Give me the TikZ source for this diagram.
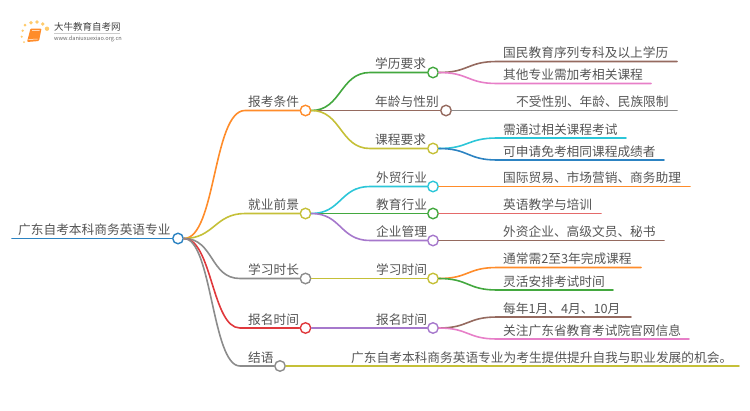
\documentclass[tikz,border=0pt]{standalone}
\usepackage{fontspec}
\setmainfont{Noto Sans CJK SC}
\definecolor{cblue}{HTML}{2C83C2}
\definecolor{corange}{HTML}{FF8C2A}
\definecolor{cgreen}{HTML}{43A83F}
\definecolor{cbrown}{HTML}{956A5F}
\definecolor{cpink}{HTML}{E77FC8}
\definecolor{cgray}{HTML}{8C8C8C}
\definecolor{colive}{HTML}{C5C038}
\definecolor{ccyan}{HTML}{2CC6D8}
\definecolor{cred}{HTML}{E0383C}
\definecolor{cpurple}{HTML}{A678CC}
\definecolor{csalmon}{HTML}{E46A6A}
\definecolor{ctext}{HTML}{555555}
\tikzset{
  lab/.style={anchor=base west,inner sep=0pt,text=ctext,yshift=-1.4pt,font=\fontsize{12.7}{14}\selectfont},
  dot/.style={circle,draw=#1,fill=white,line width=1.4pt,minimum size=10.5pt,inner sep=0pt},
  link/.style={draw=#1,line width=1.6pt,line cap=round},
  logodot/.style={fill=corange!70!yellow,opacity=.65}
}
\begin{document}
\begin{tikzpicture}[x=1pt,y=-1pt]
\useasboundingbox (0,0) rectangle (750,410);
% logo
\foreach \px/\py/\pr in {25/25/1.5,31/22.7/1.8,37/22/1.9,42.7/24/1.9,47/28.7/2.2,22.7/30.7/1.3,21.7/36.7/1.2,24/42/1}
  \fill[logodot] (\px,\py) circle (\pr);
\fill[corange,rounded corners=1pt] (30.5,28.5)--(41.5,28.5)--(39,41)--(27,42)--cycle;
\draw[white,line width=.5pt] (32,30.5)--(39.5,30.5) (28.5,39.5)--(37.5,39);
\node[lab,yshift=1.4pt,font=\fontsize{9.5}{11}\selectfont,text=black!75] (logotitle) at (54,30) {大牛教育自考网};
\draw[black!20,line width=.5pt] (54,33.3)--(120,33.3);
\node[lab,yshift=1.4pt,font=\fontsize{5.6}{7}\selectfont,text=black!60] (logourl) at (54,40.5) {www.daniuxuexiao.org.cn};
% circles
\node[dot=cblue] (root) at (178,238.5) {};
\node[dot=corange] (baokao) at (305.5,110.5) {};
\node[dot=colive] (jiuye) at (305.5,213.5) {};
\node[dot=cgray] (shichang) at (305.5,278.5) {};
\node[dot=cred] (baoming) at (305.5,328) {};
\node[dot=cgray] (jieyu) at (280,366) {};
\node[dot=cgreen] (xueli) at (433,72.5) {};
\node[dot=cbrown] (nianling) at (446,110.5) {};
\node[dot=colive] (kecheng) at (433,148.5) {};
\node[dot=ccyan] (waimao) at (433,186.5) {};
\node[dot=cgreen] (jiaoyu) at (433,213.5) {};
\node[dot=cpurple] (qiye) at (433,240.5) {};
\node[dot=colive] (xuexi) at (433,278.5) {};
\node[dot=cpurple] (shijian) at (433,328) {};
% line ends
\coordinate (rootstart) at (12,238.5);
\coordinate (baokaoa) at (245,110.5);
\coordinate (jiuyea) at (245,213.5);
\coordinate (shichanga) at (240,278.5);
\coordinate (baominga) at (240,328);
\coordinate (jieyua) at (240,366);
\coordinate (xuelia) at (370,72.5);
\coordinate (kechenga) at (370,148.5);
\coordinate (waimaoa) at (370,186.5);
\coordinate (qiyea) at (370,240.5);
\coordinate (l1a) at (497,61.5);
\coordinate (l1b) at (677,61.5);
\coordinate (l2a) at (497,83.5);
\coordinate (l2b) at (651,83.5);
\coordinate (l3b) at (677,110.5);
\coordinate (l4a) at (497,138);
\coordinate (l4b) at (626,138);
\coordinate (l5a) at (497,160);
\coordinate (l5b) at (664,160);
\coordinate (l6b) at (690,186.5);
\coordinate (l7b) at (601,213.5);
\coordinate (l8b) at (664,240.5);
\coordinate (l9a) at (497,267.5);
\coordinate (l9b) at (641,267.5);
\coordinate (l10a) at (497,290);
\coordinate (l10b) at (613,290);
\coordinate (l11a) at (497,317);
\coordinate (l11b) at (631,317);
\coordinate (l12a) at (497,339);
\coordinate (l12b) at (689,339);
\coordinate (l13b) at (739,366);
% connectors
\draw[link=cblue] (rootstart)--(root.west);
\draw[link=corange] (root.east) .. controls +(32,0) and +(-32,0) .. (baokaoa)--(baokao.west);
\draw[link=colive] (root.east) .. controls +(30,0) and +(-30,0) .. (jiuyea)--(jiuye.west);
\draw[link=cgray] (root.east) .. controls +(30,0) and +(-30,0) .. (shichanga)--(shichang.west);
\draw[link=cred] (root.east) .. controls +(28,0) and +(-28,0) .. (baominga)--(baoming.west);
\draw[link=cgray] (root.east) .. controls +(28,0) and +(-28,0) .. (jieyua)--(jieyu.west);
\draw[link=cgreen] (baokao.east) .. controls +(30,0) and +(-30,0) .. (xuelia)--(xueli.west);
\draw[link=cbrown] (baokao.east)--(nianling.west);
\draw[link=colive] (baokao.east) .. controls +(30,0) and +(-30,0) .. (kechenga)--(kecheng.west);
\draw[link=ccyan] (jiuye.east) .. controls +(30,0) and +(-30,0) .. (waimaoa)--(waimao.west);
\draw[link=cgreen] (jiuye.east)--(jiaoyu.west);
\draw[link=cpurple] (jiuye.east) .. controls +(30,0) and +(-30,0) .. (qiyea)--(qiye.west);
\draw[link=colive] (shichang.east)--(xuexi.west);
\draw[link=cpurple] (baoming.east)--(shijian.west);
\draw[link=colive] (jieyu.east)--(l13b);
\draw[link=cbrown] (xueli.east) .. controls +(30,0) and +(-30,0) .. (l1a)--(l1b);
\draw[link=cpink] (xueli.east) .. controls +(30,0) and +(-30,0) .. (l2a)--(l2b);
\draw[link=cgray] (nianling.east)--(l3b);
\draw[link=ccyan] (kecheng.east) .. controls +(30,0) and +(-30,0) .. (l4a)--(l4b);
\draw[link=cblue] (kecheng.east) .. controls +(30,0) and +(-30,0) .. (l5a)--(l5b);
\draw[link=corange] (waimao.east)--(l6b);
\draw[link=csalmon] (jiaoyu.east)--(l7b);
\draw[link=cbrown] (qiye.east)--(l8b);
\draw[link=corange] (xuexi.east) .. controls +(30,0) and +(-30,0) .. (l9a)--(l9b);
\draw[link=cgreen] (xuexi.east) .. controls +(30,0) and +(-30,0) .. (l10a)--(l10b);
\draw[link=cbrown] (shijian.east) .. controls +(30,0) and +(-30,0) .. (l11a)--(l11b);
\draw[link=cpink] (shijian.east) .. controls +(30,0) and +(-30,0) .. (l12a)--(l12b);
% labels
\node[lab] (troot) at (18,233.5) {广东自考本科商务英语专业};
\node[lab] (tbaokao) at (248,105.5) {报考条件};
\node[lab] (tjiuye) at (248,208.5) {就业前景};
\node[lab] (tshichang) at (248,273.5) {学习时长};
\node[lab] (tbaoming) at (248,323) {报名时间};
\node[lab] (tjieyu) at (248,361) {结语};
\node[lab] (txueli) at (375,67.5) {学历要求};
\node[lab] (tnianling) at (375,105.5) {年龄与性别};
\node[lab] (tkecheng) at (375,143.5) {课程要求};
\node[lab] (twaimao) at (376,181.5) {外贸行业};
\node[lab] (tjiaoyu) at (376,208.5) {教育行业};
\node[lab] (tqiye) at (376,235.5) {企业管理};
\node[lab] (txuexi) at (376,273.5) {学习时间};
\node[lab] (tshijian) at (376,323) {报名时间};
\node[lab] (tl1) at (503,56.5) {国民教育序列专科及以上学历};
\node[lab] (tl2) at (503,78.5) {其他专业需加考相关课程};
\node[lab] (tl3) at (516,105.5) {不受性别、年龄、民族限制};
\node[lab] (tl4) at (503,133) {需通过相关课程考试};
\node[lab] (tl5) at (503,155) {可申请免考相同课程成绩者};
\node[lab] (tl6) at (503,181.5) {国际贸易、市场营销、商务助理};
\node[lab] (tl7) at (503,208.5) {英语教学与培训};
\node[lab] (tl8) at (503,235.5) {外资企业、高级文员、秘书};
\node[lab] (tl9) at (503,262.5) {通常需2至3年完成课程};
\node[lab] (tl10) at (503,285) {灵活安排考试时间};
\node[lab] (tl11) at (503,312) {每年1月、4月、10月};
\node[lab] (tl12) at (503,334) {关注广东省教育考试院官网信息};
\node[lab] (tl13) at (351,361) {广东自考本科商务英语专业为考生提供提升自我与职业发展的机会。};
\end{tikzpicture}
\end{document}
